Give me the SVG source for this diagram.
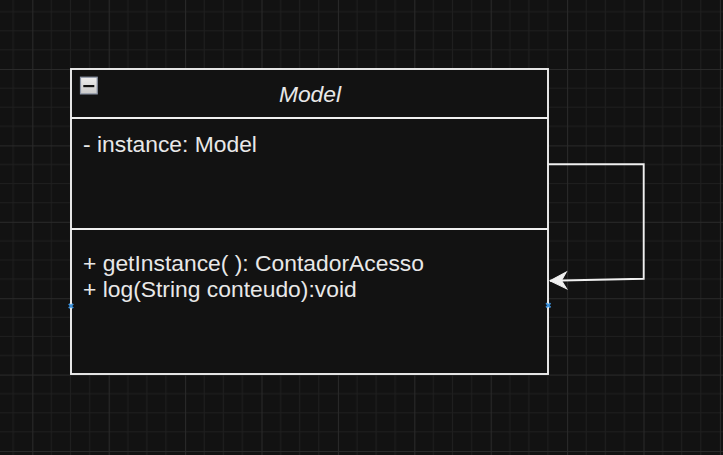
<svg xmlns="http://www.w3.org/2000/svg" width="723" height="455" viewBox="0 0 723 455">
<style>
.t{font-family:"Liberation Sans",Arial,Helvetica,sans-serif;font-size:22.85px;fill:#e8e8e8}
.edge{fill:none;stroke:#f0f0f0;stroke-width:1.9}
.ln{stroke:#f0f0f0;stroke-width:1.9}
.pt{stroke:#3d92dc;stroke-width:1.8;fill:none}
</style>
<defs>
<pattern id="grid" patternUnits="userSpaceOnUse" x="32.3" y="69" width="76.4" height="76.4">
<path d="M19.1 0V76.4M38.2 0V76.4M57.3 0V76.4M0 19.1H76.4M0 38.2H76.4M0 57.3H76.4" stroke="#1f1f1f" stroke-width="1"/>
<path d="M0.5 0V76.4M0 0.5H76.4" stroke="#2a2a2a" stroke-width="1"/>
</pattern>
<linearGradient id="ig" x1="0" y1="0" x2="0" y2="1">
<stop offset="0" stop-color="#eeeeee"/>
<stop offset="1" stop-color="#c9c9c9"/>
</linearGradient>
<marker id="arr" markerUnits="userSpaceOnUse" markerWidth="20" markerHeight="20" viewBox="-18 -10 20 20" refX="0" refY="0" orient="auto" overflow="visible">
<path d="M0 0L-16.5 -8.4L-11.5 0L-16.5 8.4Z" fill="#f0f0f0" stroke="#f0f0f0" stroke-width="1"/>
</marker>
</defs>
<rect width="723" height="455" fill="#121212"/>
<rect width="723" height="455" fill="url(#grid)"/>
<g id="connectors">
<path class="edge" d="M548 164.3H643.7V278.7L550 280.8" marker-end="url(#arr)"/>
</g>
<g id="model">
<rect x="71" y="69" width="477" height="305" fill="#121212" stroke="#f0f0f0" stroke-width="1.9"/>
<line class="ln" x1="71" y1="118" x2="548" y2="118"/>
<line class="ln" x1="71" y1="229" x2="548" y2="229"/>
<rect x="80.5" y="77.2" width="16.7" height="16.7" fill="url(#ig)" stroke="#8e97a8" stroke-width="1.2"/>
<rect x="83.3" y="85" width="11" height="2.2" fill="#111111"/>
<text class="t" x="310" y="102.3" text-anchor="middle" font-style="italic">Model</text>
<text class="t" x="83" y="152.3">- instance: Model</text>
<text class="t" x="83" y="270.7">+ getInstance( ): ContadorAcesso</text>
<text class="t" x="83" y="297.4">+ log(String conteudo):void</text>
<path class="pt" d="M68.8 303.8L73.2 308.2M73.2 303.8L68.8 308.2"/>
<path class="pt" d="M546.1 303.1L550.5 307.5M550.5 303.1L546.1 307.5"/>
</g>
</svg>
